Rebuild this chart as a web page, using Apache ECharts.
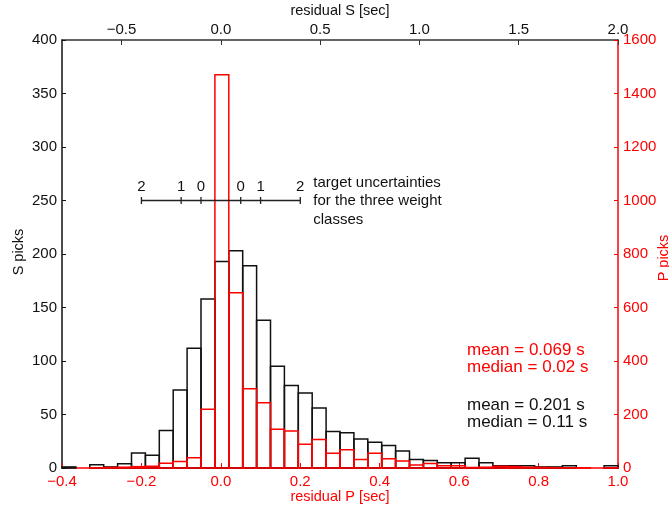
<!DOCTYPE html>
<html>
<head>
<meta charset="utf-8">
<script src="https://cdn.jsdelivr.net/npm/echarts@6/dist/echarts.min.js"></script>
<style>
  html, body { margin: 0; padding: 0; background: #fff; }
  #chart { width: 669px; height: 506px; }
</style>
</head>
<body>
<div id="chart"></div>
<script>
// histogram bins: 40 bins, S in sec (top axis), P in sec (bottom axis)
var sBinStart = -0.8, sBinWidth = 0.07;
var pBinStart = -0.4, pBinWidth = 0.035;

var sCounts = [1, 0, 3, 1, 4, 14, 12, 35, 73, 112, 158, 193, 203, 189, 138, 95, 77, 70, 56, 34,
               33, 27, 24, 21, 16, 8, 7, 5, 5, 9, 5, 2, 2, 2, 1, 1, 2, 0, 0, 2];
var pCounts = [0, 0, 1, 2, 3, 5, 7, 18, 24, 38, 220, 1470, 655, 296, 244, 145, 138, 89, 107, 55,
               68, 32, 55, 35, 26, 11, 17, 8, 8, 2, 3, 7, 6, 3, 2, 1, 1, 1, 0, 1];

// target uncertainties (residual P), drawn at S picks = 250
var targetTicks = [-0.2, -0.1, -0.05, 0.05, 0.1, 0.2];
var targetLabels = ['2', '1', '0', '0', '1', '2'];
var targetLevel = 250;

var topTicks = [-0.5, 0.0, 0.5, 1.0, 1.5, 2.0];
var bottomTicks = [-0.4, -0.2, 0.0, 0.2, 0.4, 0.6, 0.8, 1.0];

var statsP = ['mean = 0.069 s', 'median = 0.02 s'];
var statsS = ['mean = 0.201 s', 'median = 0.11 s'];

var FONT = '"Liberation Sans", Arial, Helvetica, sans-serif';
var RED = '#ff0000';
var BLACK = '#111';

function binData(start, width, counts) {
  return counts.map(function (c, i) {
    return [start + i * width, start + (i + 1) * width, c];
  });
}

function histRender(color) {
  return function (params, api) {
    var c = api.value(2);
    if (!c) return;
    var p0 = api.coord([api.value(0), c]);
    var p1 = api.coord([api.value(1), 0]);
    return {
      type: 'rect',
      shape: { x: p0[0], y: p0[1], width: p1[0] - p0[0], height: p1[1] - p0[1] },
      style: { fill: 'none', stroke: color, lineWidth: 1.5 }
    };
  };
}

function fmt(v) {
  return Number(v).toFixed(1).replace('-', '\u2212');
}

function axisName(text, x, y, color, rotated) {
  return {
    type: 'text', x: x, y: y, rotation: rotated ? Math.PI / 2 : 0,
    style: { text: text, fill: color, font: '14.5px ' + FONT, align: 'center', verticalAlign: 'middle' }
  };
}

var chart = echarts.init(document.getElementById('chart'));

chart.setOption({
  animation: false,
  backgroundColor: '#fff',
  textStyle: { fontFamily: FONT },
  grid: { left: 62, right: 51, top: 40, bottom: 38, containLabel: false, outerBoundsMode: 'none' },
  xAxis: [
    {
      type: 'value', position: 'bottom', min: -0.4, max: 1.0,
      axisLine: { onZero: false, lineStyle: { color: RED, width: 1.5 } },
      axisTick: { inside: true, length: 5, lineStyle: { color: RED }, customValues: bottomTicks },
      axisLabel: { color: RED, fontSize: 15, fontFamily: FONT, margin: 6, formatter: fmt, customValues: bottomTicks },
      splitLine: { show: false }
    },
    {
      type: 'value', position: 'top', min: -0.8, max: 2.0,
      axisLine: { onZero: false, lineStyle: { color: '#333', width: 1.5 } },
      axisTick: { inside: true, length: 5, lineStyle: { color: '#333' }, customValues: topTicks },
      axisLabel: { color: BLACK, fontSize: 15, fontFamily: FONT, margin: 3, formatter: fmt, customValues: topTicks },
      splitLine: { show: false }
    }
  ],
  yAxis: [
    {
      type: 'value', position: 'left', min: 0, max: 400, interval: 50,
      axisLine: { show: true, onZero: false, lineStyle: { color: BLACK, width: 1.5 } },
      axisTick: { show: true, inside: true, length: 4, lineStyle: { color: BLACK } },
      axisLabel: { color: BLACK, fontSize: 15, fontFamily: FONT, margin: 5, formatter: String },
      splitLine: { show: false }
    },
    {
      type: 'value', position: 'right', min: 0, max: 1600, interval: 200,
      axisLine: { show: true, onZero: false, lineStyle: { color: RED, width: 1.5 } },
      axisTick: { show: true, inside: true, length: 4, lineStyle: { color: RED } },
      axisLabel: { color: RED, fontSize: 15, fontFamily: FONT, margin: 5, formatter: String },
      splitLine: { show: false }
    }
  ],
  series: [
    {
      type: 'custom', name: 'S', xAxisIndex: 1, yAxisIndex: 0, z: 2,
      renderItem: histRender('#111'),
      encode: { x: [0, 1], y: 2 },
      data: binData(sBinStart, sBinWidth, sCounts)
    },
    {
      type: 'custom', name: 'P', xAxisIndex: 0, yAxisIndex: 1, z: 3,
      renderItem: histRender(RED),
      encode: { x: [0, 1], y: 2 },
      data: binData(pBinStart, pBinWidth, pCounts)
    },
    {
      // target uncertainty scale
      type: 'custom', xAxisIndex: 0, yAxisIndex: 0, z: 4, silent: true,
      encode: { x: 0, y: 1 },
      data: [[0, targetLevel]],
      renderItem: function (params, api) {
        var a = api.coord([targetTicks[0], targetLevel]);
        var b = api.coord([targetTicks[targetTicks.length - 1], targetLevel]);
        var children = [{
          type: 'line', shape: { x1: a[0], y1: a[1], x2: b[0], y2: b[1] },
          style: { stroke: '#222', lineWidth: 1.3 }
        }];
        targetTicks.forEach(function (t, i) {
          var p = api.coord([t, targetLevel]);
          children.push({
            type: 'line', shape: { x1: p[0], y1: p[1] - 3.5, x2: p[0], y2: p[1] + 3.5 },
            style: { stroke: '#222', lineWidth: 1.3 }
          });
          children.push({
            type: 'text',
            style: { x: p[0], y: p[1] - 14, text: targetLabels[i], fill: '#111',
                     font: '15px ' + FONT, align: 'center', verticalAlign: 'middle' }
          });
        });
        children.push({
          type: 'text',
          style: { x: b[0] + 13, y: b[1] - 27, text: 'target uncertainties\nfor the three weight\nclasses',
                   fill: '#111', font: '15px ' + FONT, lineHeight: 18.5, align: 'left', verticalAlign: 'top' }
        });
        return { type: 'group', children: children };
      }
    }
  ],
  graphic: [
    axisName('residual S [sec]', 340, 11, BLACK, false),
    axisName('residual P [sec]', 340, 497, RED, false),
    axisName('S picks', 19, 252, BLACK, true),
    axisName('P picks', 664, 258, RED, true),
    {
      type: 'text', left: 467, top: 342,
      style: { text: statsP.join('\n'), fill: RED, font: '17px ' + FONT, lineHeight: 17 }
    },
    {
      type: 'text', left: 467, top: 397,
      style: { text: statsS.join('\n'), fill: BLACK, font: '17px ' + FONT, lineHeight: 17 }
    }
  ]
});
</script>
</body>
</html>
